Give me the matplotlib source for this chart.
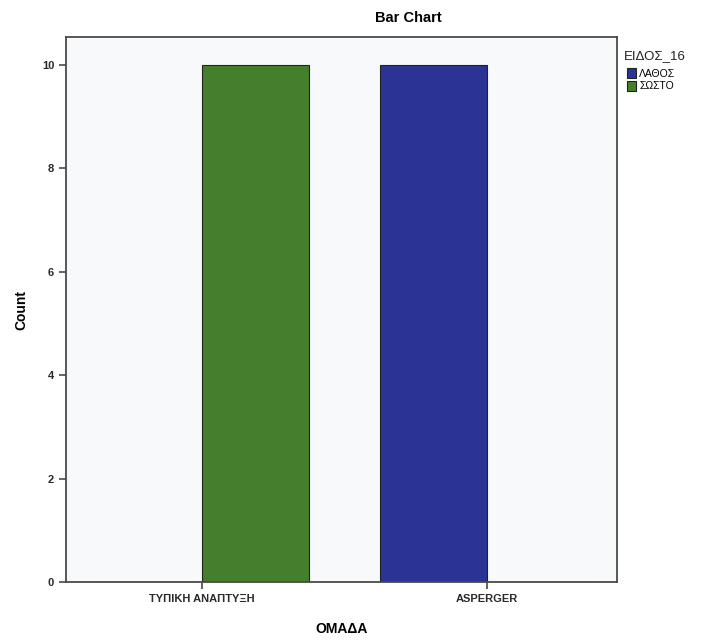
import numpy as np
import matplotlib.pyplot as plt

plt.rcParams['font.family'] = ['Liberation Sans', 'DejaVu Sans']

# data
groups = ['ΤΥΠΙΚΗ ΑΝΑΠΤΥΞΗ', 'ASPERGER']
series_names = ['ΛΑΘΟΣ', 'ΣΩΣΤΟ']
lathos = [0, 10]
sosto = [10, 0]
colors = ['#2b3394', '#44802c']

fig = plt.figure(figsize=(7.05, 6.41), dpi=100)
ax = fig.add_axes([66 / 705, 59 / 641, 551 / 705, 545 / 641])
ax.set_facecolor('#f8f9fb')

x = np.arange(len(groups))
w = 0.374
for i, (vals, col) in enumerate(zip([lathos, sosto], colors)):
    off = (i - 0.5) * w
    ax.bar(x + off, vals, width=w, color=col, edgecolor='#222222',
           linewidth=0.8, label=series_names[i])

ax.set_xlim(-0.477, 1.456)
ax.set_ylim(0, 10.54)
ax.set_yticks([0, 2, 4, 6, 8, 10])
ax.set_xticks(x)
ax.set_xticklabels(groups)

for s in ['top', 'right', 'left', 'bottom']:
    ax.spines[s].set_color('#4a4a4a')
    ax.spines[s].set_linewidth(1.3)
ax.tick_params(axis='both', direction='out', length=5, width=1.2,
               color='#4a4a4a', labelsize=8, labelcolor='#2a2a2a')
for lbl in ax.get_xticklabels() + ax.get_yticklabels():
    lbl.set_fontweight('semibold')

ax.set_ylabel('Count', fontsize=10, fontweight='bold', labelpad=10)
ax.set_xlabel('ΟΜΑΔΑ', fontsize=10, fontweight='bold', labelpad=13)
fig.text(408 / 705, 1 - 18 / 641, 'Bar Chart', ha='center', va='center',
         fontsize=10.5, fontweight='bold')

fig.text(624 / 705, 1 - 56 / 641, 'ΕΙΔΟΣ_16', ha='left', va='center',
         fontsize=9.5, color='#222222')
leg = ax.legend(loc='upper left', bbox_to_anchor=(1.01, 0.95), frameon=False,
                fontsize=7.5, handlelength=0.9, handleheight=1.0,
                handletextpad=0.3, labelspacing=0.25, borderaxespad=0)

fig.savefig('out.png', dpi=100)
